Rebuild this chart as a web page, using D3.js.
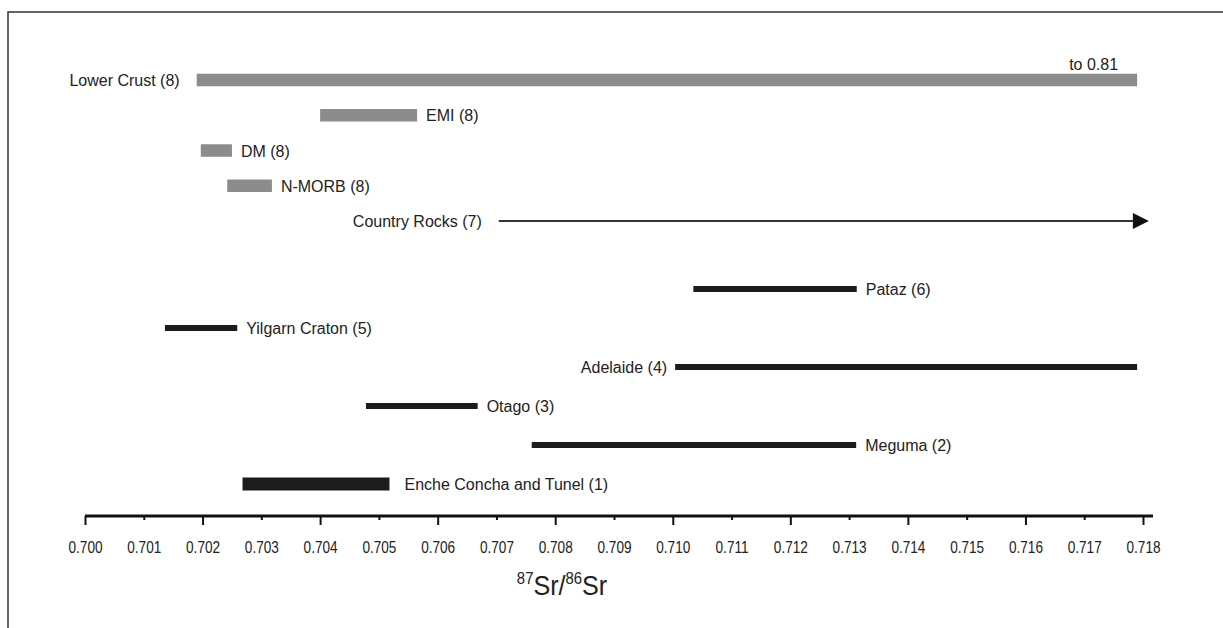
<!DOCTYPE html>
<html>
<head>
<meta charset="utf-8">
<script src="https://cdn.jsdelivr.net/npm/d3@7"></script>
<style>
    body { margin: 0; background: #fff; }
    svg { display: block; font-family: "Liberation Sans", Arial, sans-serif; }
    .label { font-size: 16px; fill: #222; }
    .tick-label { font-size: 16px; fill: #222; }
</style>
</head>
<body>
<div id="app"></div>
<script>
// ----- Data -----

// Source reservoirs (grey bars, last one is an open-ended arrow)
const sourceNames = ["Lower Crust (8)", "EMI (8)", "DM (8)", "N-MORB (8)", "Country Rocks (7)"];
const sourceLow   = [0.7019, 0.7040, 0.70197, 0.70242, 0.70704];
const sourceHigh  = [0.7179, 0.70565, 0.7025, 0.70318, 0.7181];

// Gold deposits (black bars)
const depositNames = ["Pataz (6)", "Yilgarn Craton (5)", "Adelaide (4)", "Otago (3)", "Meguma (2)", "Enche Concha and Tunel (1)"];
const depositLow   = [0.71035, 0.70136, 0.71004, 0.70478, 0.70760, 0.70268];
const depositHigh  = [0.71313, 0.70259, 0.7179, 0.70668, 0.71312, 0.70518];

// Axis ticks
const xTicks = [0.700, 0.701, 0.702, 0.703, 0.704, 0.705, 0.706, 0.707, 0.708, 0.709,
                0.710, 0.711, 0.712, 0.713, 0.714, 0.715, 0.716, 0.717, 0.718];
const lowerCrustNote = "to 0.81";

// ----- Layout -----
const Width = 1223, Height = 628;
const GreyColor = "#8c8c8c", BlackColor = "#1c1c1c";
const labelLeft = ["Lower Crust (8)", "Country Rocks (7)", "Adelaide (4)"];

function main() {
    const svg = d3.select("#app").append("svg")
        .attr("width", Width)
        .attr("height", Height);

    // frame (only top and left edges are visible)
    svg.append("path")
        .attr("d", `M8,${Height + 2} L8,12 L${Width + 2},12`)
        .attr("fill", "none")
        .attr("stroke", "#333")
        .attr("stroke-width", 1.5);

    // scales
    const xScale = d3.scaleLinear()
        .domain([0.700, 0.718])
        .range([85, 1143]);

    const ySource = d3.scalePoint()
        .domain(sourceNames)
        .range([80, 221]);
    const yDeposit = d3.scalePoint()
        .domain(depositNames)
        .range([289, 484]);

    const sources = sourceNames.map((n, i) => ({ name: n, lo: sourceLow[i], hi: sourceHigh[i] }));
    const deposits = depositNames.map((n, i) => ({ name: n, lo: depositLow[i], hi: depositHigh[i] }));

    // grey bars (all but the country rocks arrow)
    const greyBars = sources.filter(d => d.name !== "Country Rocks (7)");
    svg.selectAll("rect.source")
        .data(greyBars)
        .enter()
        .append("rect")
            .attr("class", "source")
            .attr("x", d => xScale(d.lo))
            .attr("y", d => ySource(d.name) - 6.25)
            .attr("width", d => xScale(d.hi) - xScale(d.lo))
            .attr("height", 12.5)
            .attr("fill", GreyColor);

    // country rocks arrow
    const country = sources.find(d => d.name === "Country Rocks (7)");
    const cy = ySource(country.name);
    const tip = xScale(country.hi);
    svg.append("line")
        .attr("x1", xScale(country.lo))
        .attr("x2", tip - 12)
        .attr("y1", cy)
        .attr("y2", cy)
        .attr("stroke", "#333")
        .attr("stroke-width", 2);
    svg.append("path")
        .attr("d", `M${tip - 16},${cy - 8} L${tip},${cy} L${tip - 16},${cy + 8} Z`)
        .attr("fill", "#111");

    // black bars
    svg.selectAll("rect.deposit")
        .data(deposits)
        .enter()
        .append("rect")
            .attr("class", "deposit")
            .attr("x", d => xScale(d.lo))
            .attr("y", d => yDeposit(d.name) - (d.name.startsWith("Enche") ? 6.5 : 3))
            .attr("width", d => xScale(d.hi) - xScale(d.lo))
            .attr("height", d => d.name.startsWith("Enche") ? 13 : 6)
            .attr("fill", BlackColor);

    // labels
    function addLabels(rows, yScale) {
        svg.selectAll(null)
            .data(rows)
            .enter()
            .append("text")
                .attr("class", "label")
                .attr("x", d => {
                    if (labelLeft.includes(d.name))
                        return xScale(d.lo) - (d.name === "Adelaide (4)" ? 8 : 17);
                    return xScale(d.hi) + (d.name.startsWith("Enche") ? 15 : 9);
                })
                .attr("y", d => yScale(d.name))
                .attr("dy", "0.38em")
                .attr("text-anchor", d => labelLeft.includes(d.name) ? "end" : "start")
                .text(d => d.name);
    }
    addLabels(sources, ySource);
    addLabels(deposits, yDeposit);

    svg.append("text")
        .attr("class", "label")
        .attr("x", xScale(sourceHigh[0]) - 19)
        .attr("y", 70)
        .attr("text-anchor", "end")
        .text(lowerCrustNote);

    // x axis
    const axisY = 516;
    const axis = d3.axisBottom(xScale)
        .tickValues(xTicks)
        .tickFormat(d3.format(".3f"))
        .tickSizeOuter(0);
    const gx = svg.append("g")
        .attr("transform", `translate(0, ${axisY})`)
        .call(axis);
    gx.select(".domain").remove();
    gx.selectAll(".tick line")
        .attr("stroke", "#111")
        .attr("stroke-width", 2)
        .attr("y2", (d, i) => i % 2 === 0 ? 9 : 4);
    // labels in the source are narrow and tall
    gx.selectAll(".tick text")
        .attr("class", "tick-label")
        .attr("font-family", null)
        .attr("font-size", null)
        .attr("y", 37)
        .attr("dy", 0)
        .attr("transform", "scale(0.85, 1)");
    gx.append("line")
        .attr("x1", xScale(0.700))
        .attr("x2", xScale(0.718) + 10)
        .attr("stroke", "#111")
        .attr("stroke-width", 3);

    // axis title  87Sr/86Sr
    const title = svg.append("text")
        .attr("transform", "translate(562, 595) scale(0.93, 1)")
        .attr("text-anchor", "middle")
        .attr("fill", "#222")
        .attr("font-size", 27);
    title.append("tspan").attr("font-size", 16).attr("dy", -11).text("87");
    title.append("tspan").attr("dy", 11).text("Sr/");
    title.append("tspan").attr("font-size", 16).attr("dy", -11).text("86");
    title.append("tspan").attr("dy", 11).text("Sr");
}

main();
</script>
</body>
</html>
